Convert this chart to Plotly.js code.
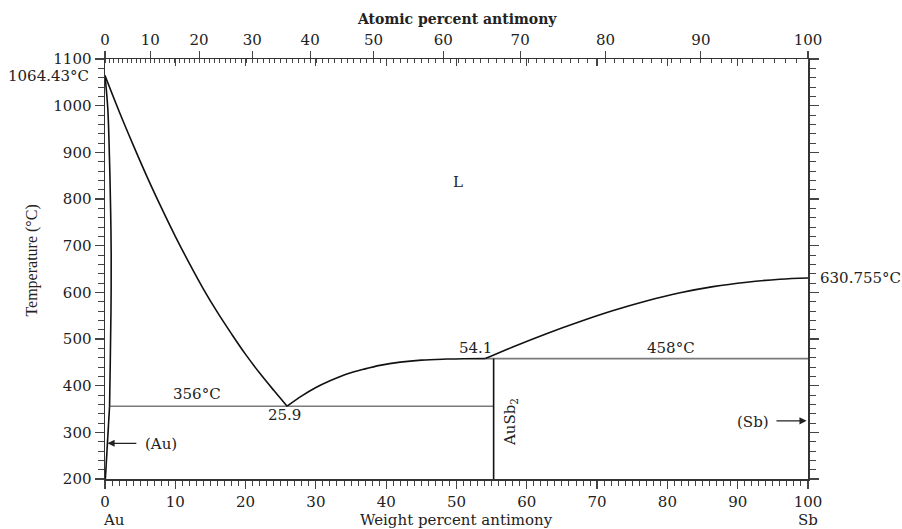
<!DOCTYPE html>
<html>
<head>
<meta charset="utf-8">
<script src="https://cdn.plot.ly/plotly-3.0.1.min.js"></script>
<style>html,body{margin:0;padding:0;background:#fff;}#chart{width:902px;height:529px;}</style>
</head>
<body>
<div id="chart"></div>
<script>
// ---- Data (weight percent Sb, temperature °C) ----
const liqLeftWt  = [0, 2, 4, 6, 8, 10, 12, 14, 16, 18, 20, 22, 24, 25.9];
const liqLeftT   = [1064.43, 988, 916, 847, 782, 720, 662, 607, 557, 511, 467, 427, 390, 356];
const liqMidWt   = [25.9, 28, 30, 32, 34.3, 37, 39.1, 42, 45, 48.6, 51, 54.1];
const liqMidT    = [356, 378, 396, 410.5, 424.5, 436, 443.5, 450.5, 454.8, 457, 457.8, 458];
const liqRightWt = [54.1, 58.0, 62.8, 67.5, 72.3, 77.0, 81.8, 86.5, 91.3, 96.0, 100];
const liqRightT  = [458, 483, 511.5, 537, 561, 581.5, 599, 612.2, 621.7, 628.1, 630.755];
const solidusWt  = [0, 0.4, 0.64, 0.8, 0.88, 0.85, 0.75, 0.65];
const solidusT   = [1064.43, 993, 885, 777, 680, 560, 450, 356];
const solvusWt   = [0.65, 0.05];
const solvusT    = [356, 200];
const eutecticWt = [0.65, 55.28];
const eutecticT  = [356, 356];
const peritWt    = [54.1, 100];
const peritT     = [458, 458];
const ausb2Wt    = [55.28, 55.28];
const ausb2T     = [200, 458];

const wtTicks    = [0, 10, 20, 30, 40, 50, 60, 70, 80, 90, 100];
const atTicks    = [0, 10, 20, 30, 40, 50, 60, 70, 80, 90, 100];
const tempTicks  = [200, 300, 400, 500, 600, 700, 800, 900, 1000, 1100];

// atomic -> weight percent conversion for the top axis
const M_SB = 121.76, M_AU = 196.967;
function atToWt(a){ return a*M_SB/(a*M_SB + (100-a)*M_AU)*100; }
const atMinor = [];
for (let a = 0; a <= 100; a += 1) atMinor.push(atToWt(a));

const FONT = 'DejaVu Serif';
const TXT = '#222';
const black = {color:'#111', width:1.6};
const grey  = {color:'#7a7a7a', width:1.6};

function tr(x, y, line, shape){
  return {x:x, y:y, mode:'lines', line:Object.assign({shape: shape||'linear', smoothing:1}, line),
          hoverinfo:'skip', showlegend:false, xaxis:'x', yaxis:'y'};
}

const data = [
  tr(eutecticWt, eutecticT, grey),
  tr(peritWt, peritT, grey),
  tr(ausb2Wt, ausb2T, black),
  tr(liqLeftWt, liqLeftT, black, 'spline'),
  tr(liqMidWt, liqMidT, black, 'spline'),
  tr(liqRightWt, liqRightT, black, 'spline'),
  tr(solidusWt, solidusT, black, 'spline'),
  tr(solvusWt, solvusT, black),
  {x:[], y:[], xaxis:'x2', yaxis:'y', mode:'lines', showlegend:false, hoverinfo:'skip'},
  {x:[], y:[], xaxis:'x3', yaxis:'y', mode:'lines', showlegend:false, hoverinfo:'skip'},
  {x:[], y:[], xaxis:'x', yaxis:'y2', mode:'lines', showlegend:false, hoverinfo:'skip'}
];

const tickFont = {family:FONT, size:15, color:TXT};
const lineCol = '#333', tickCol = '#444';

function ann(text, x, y, extra){
  return Object.assign({text:text, x:x, y:y, xref:'x', yref:'y', showarrow:false,
    xanchor:'center', yanchor:'middle',
    font:{family:FONT, size:15, color:TXT}}, extra||{});
}
function pann(text, x, y, extra){
  return Object.assign({text:text, x:x, y:y, xref:'paper', yref:'paper', showarrow:false,
    xanchor:'center', yanchor:'middle',
    font:{family:FONT, size:15, color:TXT}}, extra||{});
}

const layout = {
  width:902, height:529,
  margin:{l:105, r:94, t:59, b:50},
  paper_bgcolor:'#fff', plot_bgcolor:'#fff',
  showlegend:false,
  xaxis:{range:[0,100], tickmode:'array', tickvals:wtTicks, ticktext:wtTicks.map(String),
    ticks:'outside', ticklen:8, tickwidth:1.2, tickcolor:tickCol,
    minor:{dtick:1, tick0:0, ticks:'outside', ticklen:5, tickwidth:1, tickcolor:tickCol, showgrid:false},
    showline:true, linecolor:lineCol, linewidth:1.5, showgrid:false, zeroline:false,
    tickfont:tickFont, fixedrange:true},
  xaxis2:{range:[0,100], overlaying:'x', side:'top', anchor:'y',
    tickmode:'array', tickvals:atTicks.map(atToWt), ticktext:atTicks.map(String),
    ticks:'outside', ticklen:7, tickwidth:1.2, tickcolor:tickCol,
    minor:{tickmode:'array', tickvals:atMinor, ticks:'inside', ticklen:4, tickwidth:1, tickcolor:tickCol, showgrid:false},
    showline:true, linecolor:lineCol, linewidth:1.5, showgrid:false, zeroline:false,
    tickfont:tickFont, fixedrange:true},
  xaxis3:{range:[0,100], overlaying:'x', side:'top', anchor:'y',
    tickmode:'array', tickvals:wtTicks, showticklabels:false,
    ticks:'inside', ticklen:7, tickwidth:1.2, tickcolor:tickCol,
    showline:false, showgrid:false, zeroline:false, fixedrange:true},
  yaxis:{range:[200,1100], tickmode:'array', tickvals:tempTicks, ticktext:tempTicks.map(String),
    ticks:'outside', ticklen:9, tickwidth:1.2, tickcolor:tickCol,
    minor:{dtick:20, tick0:200, ticks:'outside', ticklen:6, tickwidth:1, tickcolor:tickCol, showgrid:false},
    showline:true, linecolor:lineCol, linewidth:1.5, showgrid:false, zeroline:false,
    tickfont:tickFont, fixedrange:true},
  yaxis2:{range:[200,1100], overlaying:'y', side:'right', anchor:'x',
    tickmode:'array', tickvals:tempTicks, showticklabels:false,
    ticks:'outside', ticklen:9, tickwidth:1.2, tickcolor:tickCol,
    minor:{dtick:20, tick0:200, ticks:'outside', ticklen:6, tickwidth:1, tickcolor:tickCol, showgrid:false},
    showline:true, linecolor:lineCol, linewidth:1.5, showgrid:false, zeroline:false, fixedrange:true},
  annotations:[
    pann('<b>Atomic percent antimony</b>', 0.5, 1.095, {font:{family:FONT, size:14, color:TXT}}),
    pann('Weight percent antimony', 0.5, -0.098),
    pann('Au', 0, -0.098, {xanchor:'left', xshift:-4}),
    pann('Sb', 1, -0.098),
    pann('Temperature (°C)', 0, 0.52, {xshift:-73, textangle:-90,
      font:{family:'Liberation Serif', size:16, color:TXT}}),
    {text:'1064.43°C', xref:'paper', yref:'y', x:0, y:1064.43, xanchor:'right', yanchor:'middle', xshift:-14,
      showarrow:false, font:{family:FONT, size:15, color:TXT}},
    {text:'630.755°C', xref:'paper', yref:'y', x:1, y:630.755, xanchor:'left', yanchor:'middle', xshift:10,
      showarrow:false, font:{family:FONT, size:15, color:TXT}},
    ann('L', 50.2, 837.5),
    ann('54.1', 52.7, 481.4),
    ann('458°C', 80.5, 480.7),
    ann('356°C', 13.1, 381.4),
    ann('25.9', 25.55, 337.6),
    ann('AuSb<sub>2</sub>', 57.6, 321.8, {textangle:-90}),
    ann('(Sb)', 92.2, 322.2),
    ann('(Au)', 7.9, 275.3),
    {text:'', x:99.8, y:324.7, xref:'x', yref:'y', ax:95.3, ay:324.7, axref:'x', ayref:'y',
      showarrow:true, arrowhead:2, arrowsize:1.1, arrowwidth:1.3, arrowcolor:'#222', standoff:0},
    {text:'', x:0.35, y:276.5, xref:'x', yref:'y', ax:4.67, ay:276.5, axref:'x', ayref:'y',
      showarrow:true, arrowhead:2, arrowsize:1.1, arrowwidth:1.3, arrowcolor:'#222', standoff:0}
  ]
};

Plotly.newPlot('chart', data, layout, {displayModeBar:false, staticPlot:true});
</script>
</body>
</html>
